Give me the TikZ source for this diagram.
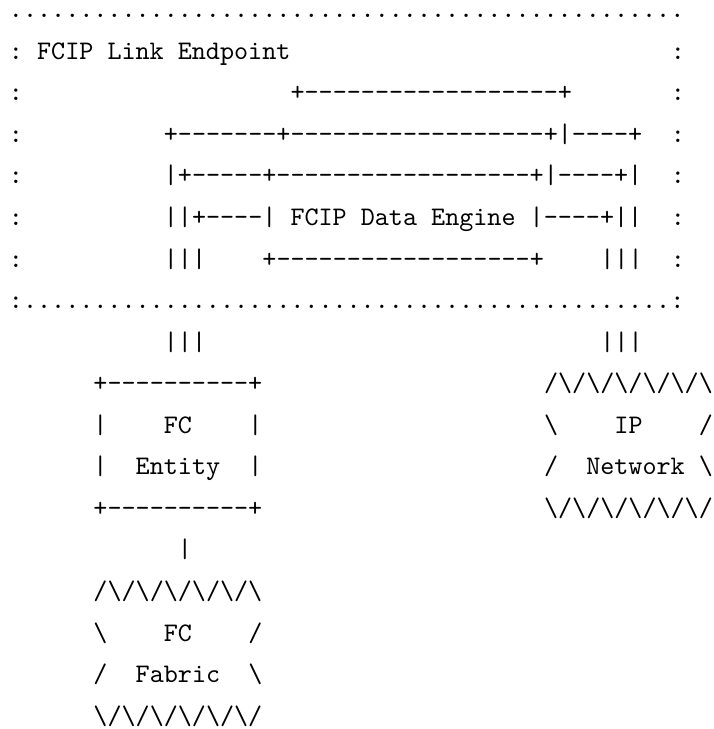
\documentclass[tikz,border=0pt]{standalone}
\usepackage{fontspec}
\setmonofont{lmmono10-regular}[Extension=.otf]
\newcommand{\artfont}{\fontsize{26.8pt}{32pt}\selectfont\ttfamily}
\newcommand{\bsl}{\textbackslash}
\tikzset{
  every picture/.style={line cap=round, line join=round},
  art/.style={anchor=base west, inner sep=0pt, outer sep=0pt, font=\artfont, text=black}
}

\begin{document}
\begin{tikzpicture}[x=14.08pt, y=-41.56pt]
  \useasboundingbox (-9pt,17.7pt) rectangle (704pt,-711.3pt);

  % FCIP Link Endpoint frame
  \node[art] (topdots) at (0,0) {................................................};
  \foreach \r in {1,...,6} {
    \node[art] (lcol\r) at (0,\r) {:};
    \node[art] (rcol\r) at (47,\r) {:};
  }
  \node[art] (botdots) at (0,7) {:..............................................:};
  \node[art] (title) at (2,1) {FCIP Link Endpoint};

  % Data engine
  \node[art] (eng2) at (20,2) {+------------------+};
  \node[art] (eng3) at (11,3) {+-------+------------------+|----+};
  \node[art] (eng4) at (11,4) {|+-----+------------------+|----+|};
  \node[art] (eng5) at (11,5) {||+----| FCIP Data Engine |----+||};
  \node[art] (eng6l) at (11,6) {|||};
  \node[art] (eng6) at (18,6) {+------------------+};
  \node[art] (eng6r) at (42,6) {|||};

  % Links out of the endpoint
  \node[art] (linkl) at (11,8) {|||};
  \node[art] (linkr) at (42,8) {|||};

  % FC Entity
  \node[art] (ent9) at (6,9) {+----------+};
  \node[art] (ent10l) at (6,10) {|};
  \node[art] (ent10) at (11,10) {FC};
  \node[art] (ent10r) at (17,10) {|};
  \node[art] (ent11l) at (6,11) {|};
  \node[art] (ent11) at (9,11) {Entity};
  \node[art] (ent11r) at (17,11) {|};
  \node[art] (ent12) at (6,12) {+----------+};
  \node[art] (link13) at (12,13) {|};

  % FC Fabric
  \node[art] (fab14) at (6,14) {/\bsl/\bsl/\bsl/\bsl/\bsl/\bsl};
  \node[art] (fab15l) at (6,15) {\bsl};
  \node[art] (fab15) at (11,15) {FC};
  \node[art] (fab15r) at (17,15) {/};
  \node[art] (fab16l) at (6,16) {/};
  \node[art] (fab16) at (9,16) {Fabric};
  \node[art] (fab16r) at (17,16) {\bsl};
  \node[art] (fab17) at (6,17) {\bsl/\bsl/\bsl/\bsl/\bsl/\bsl/};

  % IP Network
  \node[art] (net9) at (38,9) {/\bsl/\bsl/\bsl/\bsl/\bsl/\bsl};
  \node[art] (net10l) at (38,10) {\bsl};
  \node[art] (net10) at (43,10) {IP};
  \node[art] (net10r) at (49,10) {/};
  \node[art] (net11l) at (38,11) {/};
  \node[art] (net11) at (41,11) {Network};
  \node[art] (net11r) at (49,11) {\bsl};
  \node[art] (net12) at (38,12) {\bsl/\bsl/\bsl/\bsl/\bsl/\bsl/};
\end{tikzpicture}
\end{document}
